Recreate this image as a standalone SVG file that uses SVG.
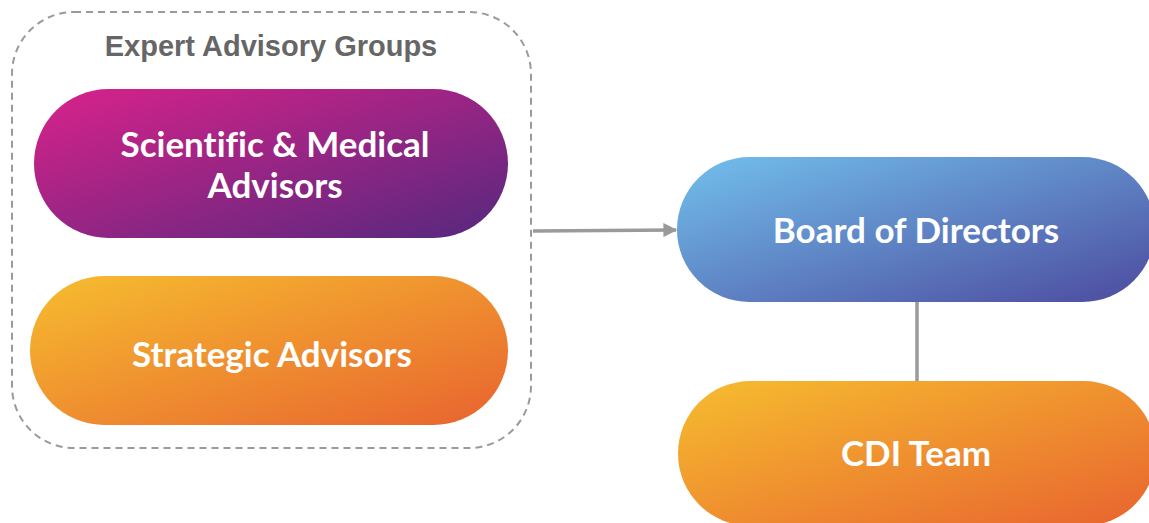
<svg xmlns="http://www.w3.org/2000/svg" width="1149" height="523" viewBox="0 0 1149 523">
  <defs>
    <linearGradient id="gPurple" x1="0" y1="0" x2="1" y2="1">
      <stop offset="0" stop-color="#d9228a"/>
      <stop offset="1" stop-color="#55287e"/>
    </linearGradient>
    <linearGradient id="gOrange" x1="0" y1="0" x2="1" y2="1">
      <stop offset="0" stop-color="#f6bd2f"/>
      <stop offset="1" stop-color="#e8632f"/>
    </linearGradient>
    <linearGradient id="gBlue" x1="0" y1="0" x2="1" y2="1">
      <stop offset="0" stop-color="#72c0ec"/>
      <stop offset="1" stop-color="#4c4a9e"/>
    </linearGradient>
    <marker id="arrow" viewBox="0 0 10 10" refX="9" refY="5" markerWidth="4" markerHeight="4" orient="auto" markerUnits="strokeWidth">
      <path d="M0,0 L10,5 L0,10 z" fill="#999999"/>
    </marker>
  </defs>
  <style>
    .group-frame { fill: none; stroke: #9a9a9a; stroke-width: 2; stroke-dasharray: 7 5; }
    .group-title { font-family: "Liberation Sans", Arial, sans-serif; font-weight: bold; font-size: 29px; fill: #666666; text-anchor: middle; }
    .pill-label { font-family: Lato, "Open Sans", sans-serif; font-weight: bold; font-size: 35px; fill: #ffffff; text-anchor: middle; font-variant-ligatures: none; }
    .link { fill: none; stroke: #9a9a9a; stroke-width: 3.5; }
  </style>
  <rect width="1149" height="523" fill="#ffffff"/>

  <!-- advisory group container -->
  <g id="expert-advisory-groups">
    <rect class="group-frame" x="12" y="12" width="519" height="436" rx="62" ry="62"/>
    <text class="group-title" x="271" y="56">Expert Advisory Groups</text>
  </g>

  <!-- connectors -->
  <g id="connectors">
    <line class="link" x1="533" y1="231" x2="676" y2="230" marker-end="url(#arrow)"/>
    <line class="link" x1="917" y1="302" x2="917" y2="382"/>
  </g>

  <g id="scientific-medical-advisors">
    <rect x="34" y="89" width="474" height="149" rx="74.5" ry="74.5" fill="url(#gPurple)"/>
    <text class="pill-label" x="275" y="157">Scientific &amp; Medical</text>
    <text class="pill-label" x="275" y="198">Advisors</text>
  </g>

  <g id="strategic-advisors">
    <rect x="30" y="276" width="478" height="149" rx="74.5" ry="74.5" fill="url(#gOrange)"/>
    <text class="pill-label" x="272" y="367">Strategic Advisors</text>
  </g>

  <g id="board-of-directors">
    <rect x="677" y="157" width="478" height="145" rx="72.5" ry="72.5" fill="url(#gBlue)"/>
    <text class="pill-label" x="916" y="243">Board of Directors</text>
  </g>

  <g id="cdi-team">
    <rect x="678" y="381" width="478" height="145" rx="72.5" ry="72.5" fill="url(#gOrange)"/>
    <text class="pill-label" x="916" y="466">CDI Team</text>
  </g>
</svg>
